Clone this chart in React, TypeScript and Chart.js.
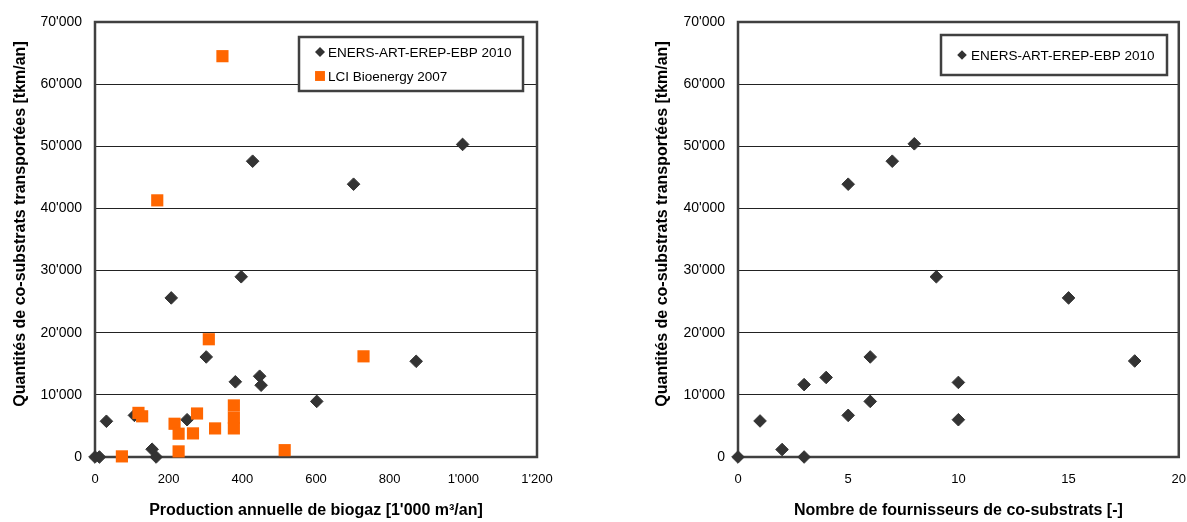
import React, { useEffect, useRef } from 'react';
import { Chart, registerables } from 'chart.js';

Chart.register(...registerables);

// ---------- data ----------
const seriesNames = ['ENERS-ART-EREP-EBP 2010', 'LCI Bioenergy 2007'];

// Left chart: production (1'000 m3/an) vs transported co-substrates (tkm/an)
const enersProdX = [0, 12, 31, 107, 155, 166, 207, 250, 302, 381, 397, 428, 447, 451, 602, 702, 872, 998];
const enersProdY = [0, 0, 5750, 6700, 1250, 0, 25600, 6000, 16100, 12100, 29000, 47600, 13000, 11550, 8950, 43900, 15400, 50300];

const lciProdX = [73, 118, 128, 169, 216, 227, 227, 266, 277, 309, 326, 346, 377, 377, 377, 515, 729];
const lciProdY = [100, 7100, 6550, 41300, 5350, 3750, 900, 3800, 7000, 18950, 4600, 64500, 8300, 6350, 4600, 1100, 16200];

// Right chart: number of suppliers vs transported co-substrates
const enersSupX = [0, 1, 2, 3, 3, 4, 5, 5, 6, 6, 7, 8, 9, 10, 10, 15, 18];
const enersSupY = [0, 5800, 1200, 11650, 0, 12800, 6700, 43900, 16100, 8950, 47600, 50400, 29000, 12000, 6000, 25600, 15450];

const yMin = 0;
const yMax = 70000;
const yStep = 10000;
const xProdMin = 0;
const xProdMax = 1200;
const xProdStep = 200;
const xSupMin = 0;
const xSupMax = 20;
const xSupStep = 5;

const yTitle = 'Quantités de co-substrats transportées [tkm/an]';
const xTitleProd = "Production annuelle de biogaz [1'000 m³/an]";
const xTitleSup = 'Nombre de fournisseurs de co-substrats [-]';

// ---------- helpers ----------
const FONT = "'Liberation Sans', Arial, Helvetica, sans-serif";
const fmt = (v: number) => String(Math.round(v)).replace(/\B(?=(\d{3})+(?!\d))/g, "'");
const toPts = (xs: number[], ys: number[]) => xs.map((x, i) => ({ x, y: ys[i] }));

const DIAMOND = '#333333';
const ORANGE = '#FF6600';
const FRAME = '#404040';

function drawMarker(ctx: CanvasRenderingContext2D, style: string, x: number, y: number, r: number, color: string) {
  ctx.fillStyle = color;
  ctx.beginPath();
  if (style === 'rectRot') {
    ctx.moveTo(x - r, y);
    ctx.lineTo(x, y - r);
    ctx.lineTo(x + r, y);
    ctx.lineTo(x, y + r);
    ctx.closePath();
  } else {
    const s = r * Math.SQRT1_2;
    ctx.rect(x - s, y - s, 2 * s, 2 * s);
  }
  ctx.fill();
}

type LegendCfg = {
  x: number; y: number; w: number; h: number;
  markerX: number; textX: number; rowY: number[]; markerR: number[];
};

function makeDecor(yTitleX: number, yTitleY: number, legend: LegendCfg) {
  return {
    id: 'decor',
    beforeDatasetsDraw(chart: any) {
      const { ctx, chartArea: a } = chart;
      ctx.save();
      ctx.strokeStyle = FRAME;
      ctx.lineWidth = 2.5;
      ctx.strokeRect(a.left, a.top, a.right - a.left, a.bottom - a.top);
      ctx.restore();
    },
    afterDraw(chart: any) {
      const ctx: CanvasRenderingContext2D = chart.ctx;
      // y-axis title
      ctx.save();
      ctx.translate(yTitleX, yTitleY);
      ctx.rotate(-Math.PI / 2);
      ctx.font = `bold 16px ${FONT}`;
      ctx.fillStyle = '#000';
      ctx.textAlign = 'center';
      ctx.textBaseline = 'middle';
      ctx.fillText(yTitle, 0, 0);
      ctx.restore();
      // legend box
      ctx.save();
      ctx.fillStyle = '#fff';
      ctx.fillRect(legend.x, legend.y, legend.w, legend.h);
      ctx.strokeStyle = FRAME;
      ctx.lineWidth = 2.5;
      ctx.strokeRect(legend.x, legend.y, legend.w, legend.h);
      chart.data.datasets.forEach((ds: any, i: number) => {
        const cy = legend.rowY[i];
        drawMarker(ctx, ds.pointStyle, legend.markerX, cy, legend.markerR[i], ds.backgroundColor);
        ctx.font = `13.5px ${FONT}`;
        ctx.fillStyle = '#000';
        ctx.textAlign = 'left';
        ctx.textBaseline = 'middle';
        ctx.fillText(ds.label, legend.textX, cy + 1);
      });
      ctx.restore();
    },
  };
}

function buildConfig(p: {
  datasets: any[];
  xMin: number; xMax: number; xStep: number; xTitle: string; xFmt: (v: number) => string;
  yAxisWidth: number; padRight: number;
  yTitleX: number; yTitleY: number; legend: LegendCfg;
}): any {
  return {
    type: 'scatter',
    data: { datasets: p.datasets },
    options: {
      animation: false,
      responsive: false,
      events: [],
      layout: { padding: { top: 22, right: p.padRight, bottom: 0, left: 0 } },
      plugins: { legend: { display: false }, tooltip: { enabled: false }, title: { display: false } },
      scales: {
        x: {
          type: 'linear',
          min: p.xMin,
          max: p.xMax,
          grid: { display: false, drawTicks: false },
          border: { display: false },
          ticks: {
            stepSize: p.xStep,
            padding: 15,
            color: '#000',
            font: { family: FONT, size: 13 },
            maxRotation: 0,
            callback: (v: number) => p.xFmt(v),
          },
          title: {
            display: true,
            text: p.xTitle,
            color: '#000',
            font: { family: FONT, size: 16, weight: 'bold' },
            padding: { top: 0, bottom: 2 },
          },
          afterFit: (s: any) => { s.height = 65; },
        },
        y: {
          type: 'linear',
          min: yMin,
          max: yMax,
          grid: { display: true, drawTicks: false, color: '#222', lineWidth: 1 },
          border: { display: false },
          ticks: {
            stepSize: yStep,
            padding: 13,
            color: '#000',
            font: { family: FONT, size: 14 },
            callback: (v: number) => fmt(v),
          },
          afterFit: (s: any) => { s.width = p.yAxisWidth; },
        },
      },
    },
    plugins: [makeDecor(p.yTitleX, p.yTitleY, p.legend)],
  };
}

export default function App() {
  const leftRef = useRef<HTMLCanvasElement | null>(null);
  const rightRef = useRef<HTMLCanvasElement | null>(null);

  useEffect(() => {
    const enersStyle = {
      pointStyle: 'rectRot', pointRadius: 6.3, backgroundColor: DIAMOND, borderColor: DIAMOND,
      borderWidth: 1, clip: false, showLine: false, order: 1,
    };
    const lciStyle = {
      pointStyle: 'rect', pointRadius: 8.6, backgroundColor: ORANGE, borderColor: ORANGE,
      borderWidth: 0, clip: false, showLine: false, order: 0,
    };

    const left = new Chart(leftRef.current as HTMLCanvasElement, buildConfig({
      datasets: [
        { label: seriesNames[0], data: toPts(enersProdX, enersProdY), ...enersStyle },
        { label: seriesNames[1], data: toPts(lciProdX, lciProdY), ...lciStyle },
      ],
      xMin: xProdMin, xMax: xProdMax, xStep: xProdStep, xTitle: xTitleProd, xFmt: fmt,
      yAxisWidth: 95, padRight: 53,
      yTitleX: 21, yTitleY: 224,
      legend: { x: 299, y: 37, w: 224, h: 54, markerX: 320, textX: 328, rowY: [52, 76], markerR: [5, 7] },
    }));

    const right = new Chart(rightRef.current as HTMLCanvasElement, buildConfig({
      datasets: [
        { label: seriesNames[0], data: toPts(enersSupX, enersSupY), ...enersStyle },
      ],
      xMin: xSupMin, xMax: xSupMax, xStep: xSupStep, xTitle: xTitleSup, xFmt: (v: number) => String(v),
      yAxisWidth: 148, padRight: 0,
      yTitleX: 73, yTitleY: 224,
      legend: { x: 351, y: 35, w: 226, h: 40, markerX: 372, textX: 381, rowY: [55], markerR: [4.8] },
    }));

    return () => {
      left.destroy();
      right.destroy();
    };
  }, []);

  return (
    <div style={{ position: 'absolute', left: 0, top: 0, width: 1187, height: 522, background: '#fff', overflow: 'hidden' }}>
      <canvas ref={leftRef} width={590} height={522}
        style={{ position: 'absolute', left: 0, top: 0, width: 590, height: 522 }} />
      <canvas ref={rightRef} width={611} height={522}
        style={{ position: 'absolute', left: 590, top: 0, width: 611, height: 522 }} />
    </div>
  );
}
